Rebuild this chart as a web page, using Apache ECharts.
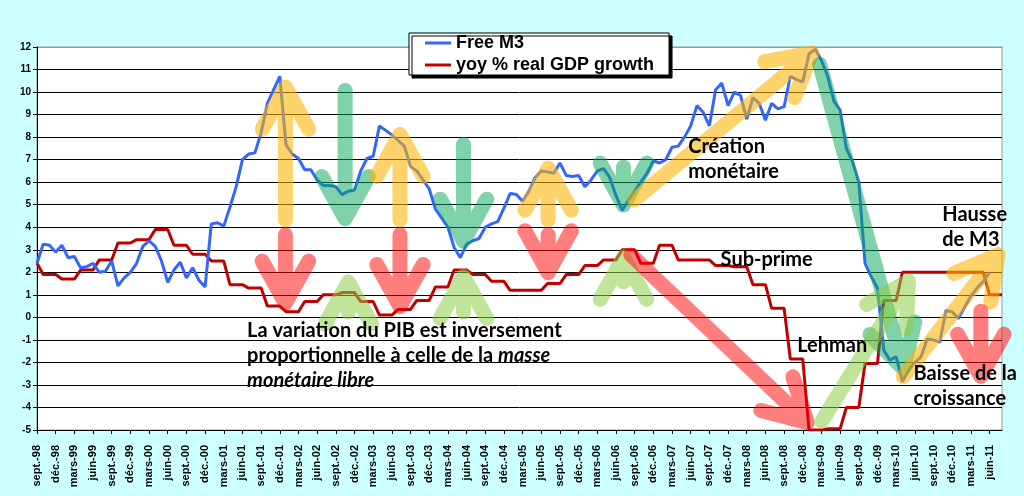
<!DOCTYPE html>
<html>
<head>
<meta charset="utf-8">
<script src="https://cdn.jsdelivr.net/npm/echarts@6/dist/echarts.min.js"></script>
<style>
  html, body { margin: 0; padding: 0; background: #ccffff; }
  #chart { width: 1024px; height: 496px; }
</style>
</head>
<body>
<div id="chart"></div>
<script>
// monthly axis, sept-98 .. août-11 (the plot runs two months past the last value)
const monthNames = ['janv.', 'févr.', 'mars', 'avr.', 'mai', 'juin', 'juil.', 'août', 'sept.', 'oct.', 'nov.', 'déc.'];
const months = [];
for (let k = 0; k < 156; k++) {
    const m = (8 + k) % 12;
    const yy = (98 + Math.floor((8 + k) / 12)) % 100;
    months.push(monthNames[m] + '-' + String(yy).padStart(2, '0'));
}

// Free M3, % yoy, sept-98 .. juin-11
const freeM3 = [
    2.4, 3.25, 3.2, 2.9, 3.2, 2.65, 2.7, 2.2, 2.25, 2.4, 2.0, 2.05,
    2.5, 1.4, 1.75, 2.0, 2.4, 3.15, 3.4, 3.15, 2.5, 1.55, 2.1, 2.45,
    1.75, 2.2, 1.65, 1.35, 4.15, 4.2, 4.05, 4.9, 5.8, 7.0, 7.25, 7.3,
    8.2, 9.5, 10.1, 10.7, 7.65, 7.25, 7.05, 6.55, 6.55, 6.1, 5.85, 5.85,
    5.8, 5.45, 5.6, 5.65, 6.5, 7.05, 7.15, 8.5, 8.3, 8.1, 7.85, 7.6,
    6.7, 6.5, 6.1, 5.7, 4.8, 4.4, 4.0, 3.1, 2.65, 3.25, 3.4, 3.5,
    4.0, 4.15, 4.25, 4.85, 5.5, 5.45, 5.15, 5.6, 6.2, 6.5, 6.45, 6.4,
    6.85, 6.3, 6.25, 6.3, 5.8, 6.1, 6.5, 6.6, 6.2, 5.4, 4.75, 5.2,
    5.6, 6.0, 6.4, 6.95, 6.85, 7.0, 7.55, 7.6, 8.0, 8.5, 9.4, 9.1,
    8.5, 10.1, 10.4, 9.4, 10.0, 9.85, 8.8, 9.75, 9.5, 8.75, 9.5, 9.25,
    9.35, 10.7, 10.55, 10.45, 11.7, 11.9, 11.4, 10.7, 9.6, 9.2, 7.5, 6.9,
    6.0, 2.4, 1.8, 1.3, -1.45, -1.9, -1.75, -2.85, -2.35, -2.0, -1.75, -0.95,
    -1.0, -1.1, 0.3, 0.25, -0.05, 0.45, 0.95, 1.3, 1.6, 2.0
];

// yoy % real GDP growth, monthly steps
const gdpGrowth = [
    2.4, 1.9, 1.9, 1.9, 1.7, 1.7, 1.7, 2.1, 2.1, 2.1, 2.55, 2.55,
    2.55, 3.3, 3.3, 3.3, 3.45, 3.45, 3.45, 3.9, 3.9, 3.9, 3.2, 3.2,
    3.2, 2.8, 2.8, 2.8, 2.5, 2.5, 2.5, 1.45, 1.45, 1.45, 1.3, 1.3,
    1.3, 0.5, 0.5, 0.5, 0.25, 0.25, 0.25, 0.7, 0.7, 0.7, 1.0, 1.0,
    1.0, 1.1, 1.1, 1.1, 0.7, 0.7, 0.7, 0.1, 0.1, 0.1, 0.35, 0.35,
    0.35, 0.75, 0.75, 0.75, 1.35, 1.35, 1.35, 2.1, 2.1, 2.1, 1.9, 1.9,
    1.9, 1.6, 1.6, 1.6, 1.2, 1.2, 1.2, 1.2, 1.2, 1.2, 1.5, 1.5,
    1.5, 1.9, 1.9, 1.9, 2.3, 2.3, 2.3, 2.55, 2.55, 2.55, 3.0, 3.0,
    3.0, 2.4, 2.4, 2.4, 3.2, 3.2, 3.2, 2.55, 2.55, 2.55, 2.55, 2.55,
    2.55, 2.3, 2.3, 2.3, 2.25, 2.25, 2.25, 1.45, 1.45, 1.45, 0.4, 0.4,
    0.4, -1.85, -1.85, -1.85, -5.0, -5.0, -5.0, -4.95, -4.95, -4.95, -4.0, -4.0,
    -4.0, -2.05, -2.05, -2.05, 0.75, 0.75, 0.75, 2.0, 2.0, 2.0, 2.0, 2.0,
    2.0, 2.0, 2.0, 2.0, 2.0, 2.0, 2.0, 2.0, 2.0, 1.0, 1.0, 1.0
];

// hand-drawn arrows: colour, tail (month index, %), tip (month index, %)
const arrows = [
    ['yellow', 39.9, 4.0, 39.9, 10.55],
    ['red', 39.9, 4.0, 39.9, 0.3],
    ['green', 49.5, 10.4, 49.5, 4.05],
    ['yellow', 58.3, 4.0, 58.3, 8.45],
    ['red', 58.3, 4.0, 58.3, 0.15],
    ['green', 68.5, 8.0, 68.5, 3.05],
    ['yellow', 82.1, 4.0, 82.1, 6.95],
    ['red', 82.1, 4.0, 82.1, 1.65],
    ['green', 94.2, 7.0, 94.2, 4.65],
    ['lime', 50.0, -0.1, 50.0, 1.9],
    ['lime', 68.5, -0.1, 68.5, 2.15],
    ['lime', 94.2, 1.25, 94.2, 3.0],
    ['red', 94.5, 3.0, 124.6, -4.9],
    ['yellow', 95.0, 5.0, 125.4, 11.95],
    ['green', 125.4, 11.55, 139.5, -2.6],
    ['lime', 125.4, -4.9, 140.6, 1.9],
    ['yellow', 138.4, -2.9, 155.1, 3.05],
    ['red', 151.6, 0.6, 151.6, -2.95]
];
const arrowColors = {
    yellow: 'rgba(255,180,0,0.58)',
    red: 'rgba(255,0,0,0.5)',
    green: 'rgba(0,165,85,0.5)',
    lime: 'rgba(140,205,70,0.55)'
};

// text notes: text, top-left corner (month index, %)
const notes = [
    ['La variation du PIB est inversement\nproportionnelle à celle de la {i|masse}\n{i|monétaire libre}', 33.75, -0.02],
    ['Création\nmonétaire', 104.6, 8.15],
    ['Sub-prime', 109.8, 3.12],
    ['Lehman', 122.1, -0.68],
    ['Hausse\nde M3', 145.4, 5.14],
    ['Baisse de la\ncroissance', 140.8, -1.93]
];

const chart = echarts.init(document.getElementById('chart'));

function renderArrow(params, api) {
    const tail = api.coord([api.value(0), api.value(1)]);
    const end = api.coord([api.value(2), api.value(3)]);
    const color = arrowColors[arrows[params.dataIndex][0]];
    const w = 15, head = 48, ang = 29 * Math.PI / 180;
    const dx = end[0] - tail[0], dy = end[1] - tail[1];
    const len = Math.hypot(dx, dy);
    const ux = dx / len, uy = dy / len;
    const start = [tail[0] + ux * w / 2, tail[1] + uy * w / 2];
    const tip = [end[0] - ux * w / 2, end[1] - uy * w / 2];
    const arm = s => {
        const c = Math.cos(ang), sn = Math.sin(s * ang);
        return [tip[0] + head * (-ux * c + uy * sn), tip[1] + head * (-ux * sn - uy * c)];
    };
    const a1 = arm(1), a2 = arm(-1);
    const d = 'M' + start[0] + ' ' + start[1] + 'L' + tip[0] + ' ' + tip[1] +
        'M' + a1[0] + ' ' + a1[1] + 'L' + tip[0] + ' ' + tip[1] + 'L' + a2[0] + ' ' + a2[1];
    return {
        type: 'path',
        shape: { pathData: d },
        style: { fill: 'none', stroke: color, lineWidth: w, lineCap: 'round', lineJoin: 'round' }
    };
}

function renderNote(params, api) {
    const p = api.coord([api.value(0), api.value(1)]);
    return {
        type: 'text',
        x: p[0],
        y: p[1],
        style: {
            text: notes[params.dataIndex][0],
            fill: '#000',
            fontFamily: 'Lato',
            fontWeight: 'bold',
            fontSize: 20,
            lineHeight: 25,
            align: 'left',
            verticalAlign: 'top',
            rich: {
                i: { fontFamily: 'Lato', fontWeight: 'bold', fontStyle: 'italic', fontSize: 20, lineHeight: 25, fill: '#000' }
            }
        }
    };
}

const splitColors = [];
for (let k = 0; k < 18; k++) splitColors.push(k === 17 ? '#999' : '#000');

const axisFont = { fontFamily: 'Liberation Sans, Arial', fontWeight: 'bold', color: '#000' };

chart.setOption({
    animation: false,
    backgroundColor: '#ccffff',
    grid: {
        left: 37, right: 22, top: 47, bottom: 66,
        show: true, backgroundColor: '#fff', borderColor: '#999', borderWidth: 1
    },
    legend: {
        data: ['Free M3', 'yoy % real GDP growth'],
        orient: 'vertical',
        left: 409, top: 33,
        icon: 'rect',
        itemWidth: 26, itemHeight: 3, itemGap: 4,
        padding: [1, 15, 1, 16],
        backgroundColor: '#fff',
        borderColor: '#000', borderWidth: 1,
        shadowColor: '#000', shadowBlur: 0, shadowOffsetX: 3, shadowOffsetY: 3,
        textStyle: { fontFamily: 'Liberation Sans, Arial', fontWeight: 'bold', fontSize: 18, color: '#000' }
    },
    xAxis: [
        {
            type: 'category',
            data: months,
            boundaryGap: false,
            axisLine: { onZero: false, lineStyle: { color: '#000', width: 1 } },
            axisTick: { interval: 2, length: 4, lineStyle: { color: '#000' } },
            axisLabel: { ...axisFont, interval: 2, rotate: 90, fontSize: 11, margin: 15 },
            splitLine: { show: false }
        },
        { type: 'value', min: 0, max: 155, show: false }
    ],
    yAxis: {
        type: 'value',
        min: -5, max: 12, interval: 1,
        axisLine: { show: true, lineStyle: { color: '#000', width: 1 } },
        axisTick: { show: true, length: 4, lineStyle: { color: '#000' } },
        axisLabel: { ...axisFont, fontSize: 10, margin: 6 },
        splitLine: { lineStyle: { color: splitColors, width: 1 } }
    },
    series: [
        {
            name: 'yoy % real GDP growth',
            type: 'line',
            data: gdpGrowth,
            symbol: 'none',
            lineStyle: { color: '#c00000', width: 3 },
            itemStyle: { color: '#c00000' },
            z: 2
        },
        {
            name: 'Free M3',
            type: 'line',
            data: freeM3,
            symbol: 'none',
            lineStyle: { color: '#3366ff', width: 3 },
            itemStyle: { color: '#3366ff' },
            z: 2
        },
        {
            type: 'custom',
            xAxisIndex: 1,
            renderItem: renderArrow,
            data: arrows.map(a => [a[1], a[2], a[3], a[4]]),
            encode: { x: [0, 2], y: [1, 3] },
            silent: true,
            z: 3
        },
        {
            type: 'custom',
            xAxisIndex: 1,
            renderItem: renderNote,
            data: notes.map(n => [n[1], n[2]]),
            encode: { x: 0, y: 1 },
            silent: true,
            z: 4
        }
    ]
});
</script>
</body>
</html>
